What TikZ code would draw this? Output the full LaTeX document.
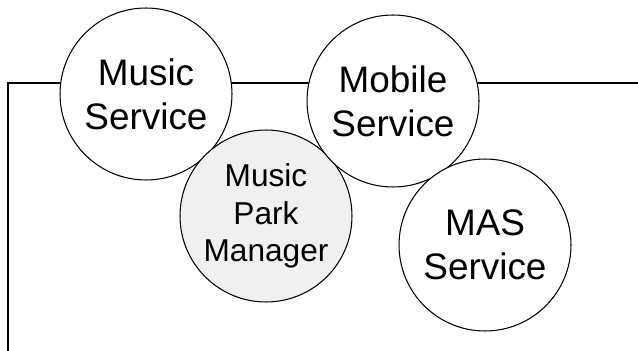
\documentclass[tikz,border=0pt]{standalone}
\usepackage{fontspec}
\setmainfont{Liberation Sans}

\begin{document}
\begin{tikzpicture}[x=0.02cm, y=-0.02cm, line width=0.6pt,
    every node/.style={circle, draw, fill=white, minimum size=3.44cm, inner sep=0pt, align=center,
      font=\fontsize{21}{25}\selectfont}]
      \useasboundingbox (0,0) rectangle (638,351);
      \clip (0,0) rectangle (638,351);

      % Frame behind the services
      \draw (8,400) -- (8,83) -- (700,83);

      % Service circles
      \node (music) at (146,94) {Music\\Service};
      \node[fill=gray!12, font=\fontsize{18}{21.5}\selectfont] (manager) at (266,216) {Music\\Park\\Manager};
      \node (mobile) at (393,101) {Mobile\\Service};
      \node (mas) at (485,245) {MAS\\Service};
    \end{tikzpicture}
\end{document}
